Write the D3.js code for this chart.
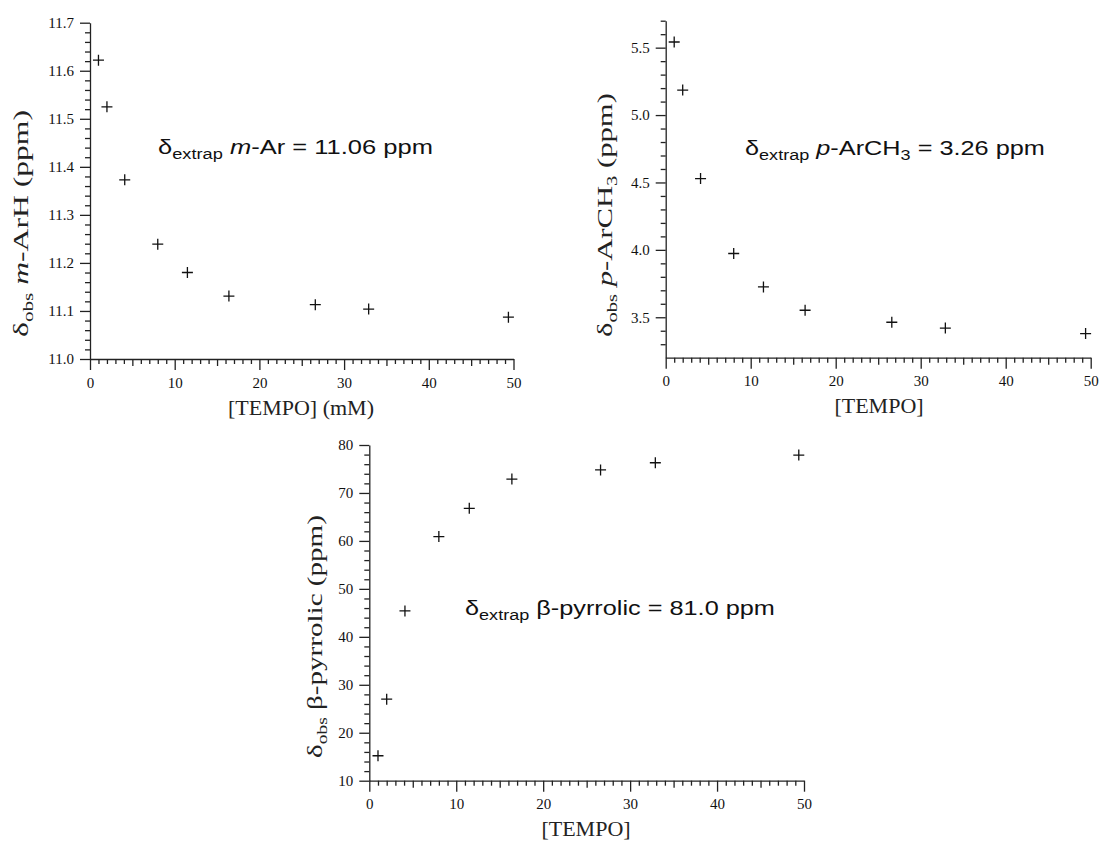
<!DOCTYPE html>
<html>
<head>
<meta charset="utf-8">
<script src="https://cdn.jsdelivr.net/npm/d3@7"></script>
<style>
  body { margin: 0; background: #fff; }
  .tick line, .domain { stroke: #222; stroke-width: 1.3; }
</style>
</head>
<body>
<div id="chart"></div>
<script>
// [TEMPO] concentrations (mM), shared by all three panels
const tempo = [1.0, 2.0, 4.1, 8.0, 11.5, 16.4, 26.6, 32.9, 49.4];
// observed shifts (ppm)
const mArH = [11.622, 11.525, 11.373, 11.239, 11.18, 11.131, 11.113, 11.104, 11.087];
const pArCH3 = [5.542, 5.185, 4.529, 3.973, 3.725, 3.552, 3.463, 3.42, 3.379];
const betaPyrrolic = [15.2, 27.0, 45.4, 60.9, 66.8, 72.9, 74.8, 76.3, 77.9];

// tick labels
const xTicks = [0, 10, 20, 30, 40, 50];
const mArTicks = [11.0, 11.1, 11.2, 11.3, 11.4, 11.5, 11.6, 11.7];
const pArTicks = [3.5, 4.0, 4.5, 5.0, 5.5];
const betaTicks = [10, 20, 30, 40, 50, 60, 70, 80];

const serif = "Liberation Serif, Times New Roman, serif";

const svg = d3.select("#chart").append("svg")
  .attr("width", 1104)
  .attr("height", 842);

const panels = [
  { ys: mArH, yDomain: [11.0, 11.7], yTicks: mArTicks, yMinor: 0.02, fmt: ".1f",
    x0: 90, x1: 513.5, y0: 359, y1: 22.7,
    xTitle: "[TEMPO] (mM)", xTitleX: 301, xTitleY: 415,
    yLabel: [["δ"], ["obs", "sub"], [" "], ["m", "it"], ["-ArH (ppm)"]],
    yLabelX: 28, yLabelY: 223.5, yLabelLen: 227,
    note: [["δ"], ["extrap", "sub"], [" "], ["m", "it"], ["-Ar = 11.06 ppm"]],
    noteX: 158, noteY: 154, noteLen: 275 },
  { ys: pArCH3, yDomain: [3.2, 5.7], yTicks: pArTicks, yMinor: 0.1, fmt: ".1f",
    x0: 665.7, x1: 1090.7, y0: 357.7, y1: 20.7,
    xTitle: "[TEMPO]", xTitleX: 879, xTitleY: 413,
    yLabel: [["δ"], ["obs", "sub"], [" "], ["p", "it"], ["-ArCH"], ["3", "sub"], [" (ppm)"]],
    yLabelX: 612, yLabelY: 215, yLabelLen: 244,
    note: [["δ"], ["extrap", "sub"], [" "], ["p", "it"], ["-ArCH"], ["3", "sub"], [" = 3.26 ppm"]],
    noteX: 745, noteY: 155, noteLen: 300 },
  { ys: betaPyrrolic, yDomain: [10, 80], yTicks: betaTicks, yMinor: 2, fmt: "d",
    x0: 369.3, x1: 804, y0: 780.7, y1: 445,
    xTitle: "[TEMPO]", xTitleX: 586, xTitleY: 836,
    yLabel: [["δ"], ["obs", "sub"], [" β-pyrrolic (ppm)"]],
    yLabelX: 322, yLabelY: 636.5, yLabelLen: 243,
    note: [["δ"], ["extrap", "sub"], [" β-pyrrolic = 81.0 ppm"]],
    noteX: 465, noteY: 615, noteLen: 310 }
];

// writes rich text pieces (plain / subscript / italic) into a text element
function richText(text, parts, subSize) {
  let shifted = false;
  parts.forEach(([str, kind]) => {
    const t = text.append("tspan").text(str);
    if (kind === "sub") {
      t.attr("font-size", subSize);
      if (!shifted) { t.attr("dy", 5); shifted = true; }
    } else {
      if (shifted) { t.attr("dy", -5); shifted = false; }
      if (kind === "it") t.attr("font-style", "italic");
    }
  });
}

function styleAxis(a) {
  a.attr("font-family", serif).attr("font-size", 15);
  a.selectAll(".tick text").attr("fill", "#111");
}

function drawPanel(p) {
  const x = d3.scaleLinear().domain([0, 50]).range([p.x0, p.x1]);
  const y = d3.scaleLinear().domain(p.yDomain).range([p.y0, p.y1]);
  const g = svg.append("g");

  // x axis: minor every 1, medium at 5s, major at 10s
  const xMinor = d3.range(1, 50).filter(v => v % 5 !== 0);
  const xMid = d3.range(5, 50, 10);
  g.append("g").attr("transform", `translate(0,${p.y0})`)
    .call(d3.axisBottom(x).tickValues(xMinor).tickSize(5).tickFormat(""))
    .call(a => a.select(".domain").remove());
  g.append("g").attr("transform", `translate(0,${p.y0})`)
    .call(d3.axisBottom(x).tickValues(xMid).tickSize(7).tickFormat(""))
    .call(a => a.select(".domain").remove());
  g.append("g").attr("transform", `translate(0,${p.y0})`)
    .call(d3.axisBottom(x).tickValues(xTicks).tickSize(11).tickSizeOuter(0).tickPadding(7))
    .call(styleAxis);

  // y axis
  const [lo, hi] = p.yDomain;
  const n = Math.round((hi - lo) / p.yMinor);
  const yMinor = d3.range(1, n + 1).map(i => +(lo + i * p.yMinor).toFixed(3))
    .filter(v => !p.yTicks.some(t => Math.abs(t - v) < 1e-6));
  g.append("g").attr("transform", `translate(${p.x0},0)`)
    .call(d3.axisLeft(y).tickValues(yMinor).tickSize(5).tickFormat(""))
    .call(a => a.select(".domain").remove());
  g.append("g").attr("transform", `translate(${p.x0},0)`)
    .call(d3.axisLeft(y).tickValues(p.yTicks).tickSize(10).tickSizeOuter(0)
      .tickPadding(6).tickFormat(d3.format(p.fmt)))
    .call(styleAxis);

  // data crosses
  g.selectAll(".pt").data(tempo.map((t, i) => [t, p.ys[i]]))
    .enter().append("path")
    .attr("class", "pt")
    .attr("transform", d => `translate(${x(d[0])},${y(d[1])})`)
    .attr("d", "M-5.5,0H5.5M0,-5.5V5.5")
    .attr("stroke", "#111")
    .attr("stroke-width", 1.3);

  // x axis title
  g.append("text")
    .attr("x", p.xTitleX).attr("y", p.xTitleY)
    .attr("text-anchor", "middle")
    .attr("font-family", serif)
    .attr("font-size", 22)
    .attr("fill", "#222")
    .text(p.xTitle);

  // y axis label, rotated and fitted to the original length
  const yl = g.append("text")
    .attr("text-anchor", "middle")
    .attr("font-family", serif)
    .attr("font-size", 21)
    .attr("fill", "#222");
  richText(yl, p.yLabel, 14);
  const ylw = yl.node().getComputedTextLength();
  yl.attr("transform", `translate(${p.yLabelX},${p.yLabelY}) rotate(-90) scale(${p.yLabelLen / ylw},1)`);

  // extrapolated value note
  const nt = g.append("text")
    .attr("font-family", "Liberation Sans, Arial, sans-serif")
    .attr("font-size", 21)
    .attr("fill", "#111");
  richText(nt, p.note, 15);
  const ntw = nt.node().getComputedTextLength();
  nt.attr("transform", `translate(${p.noteX},${p.noteY}) scale(${p.noteLen / ntw},1)`);
}

panels.forEach(drawPanel);
</script>
</body>
</html>
